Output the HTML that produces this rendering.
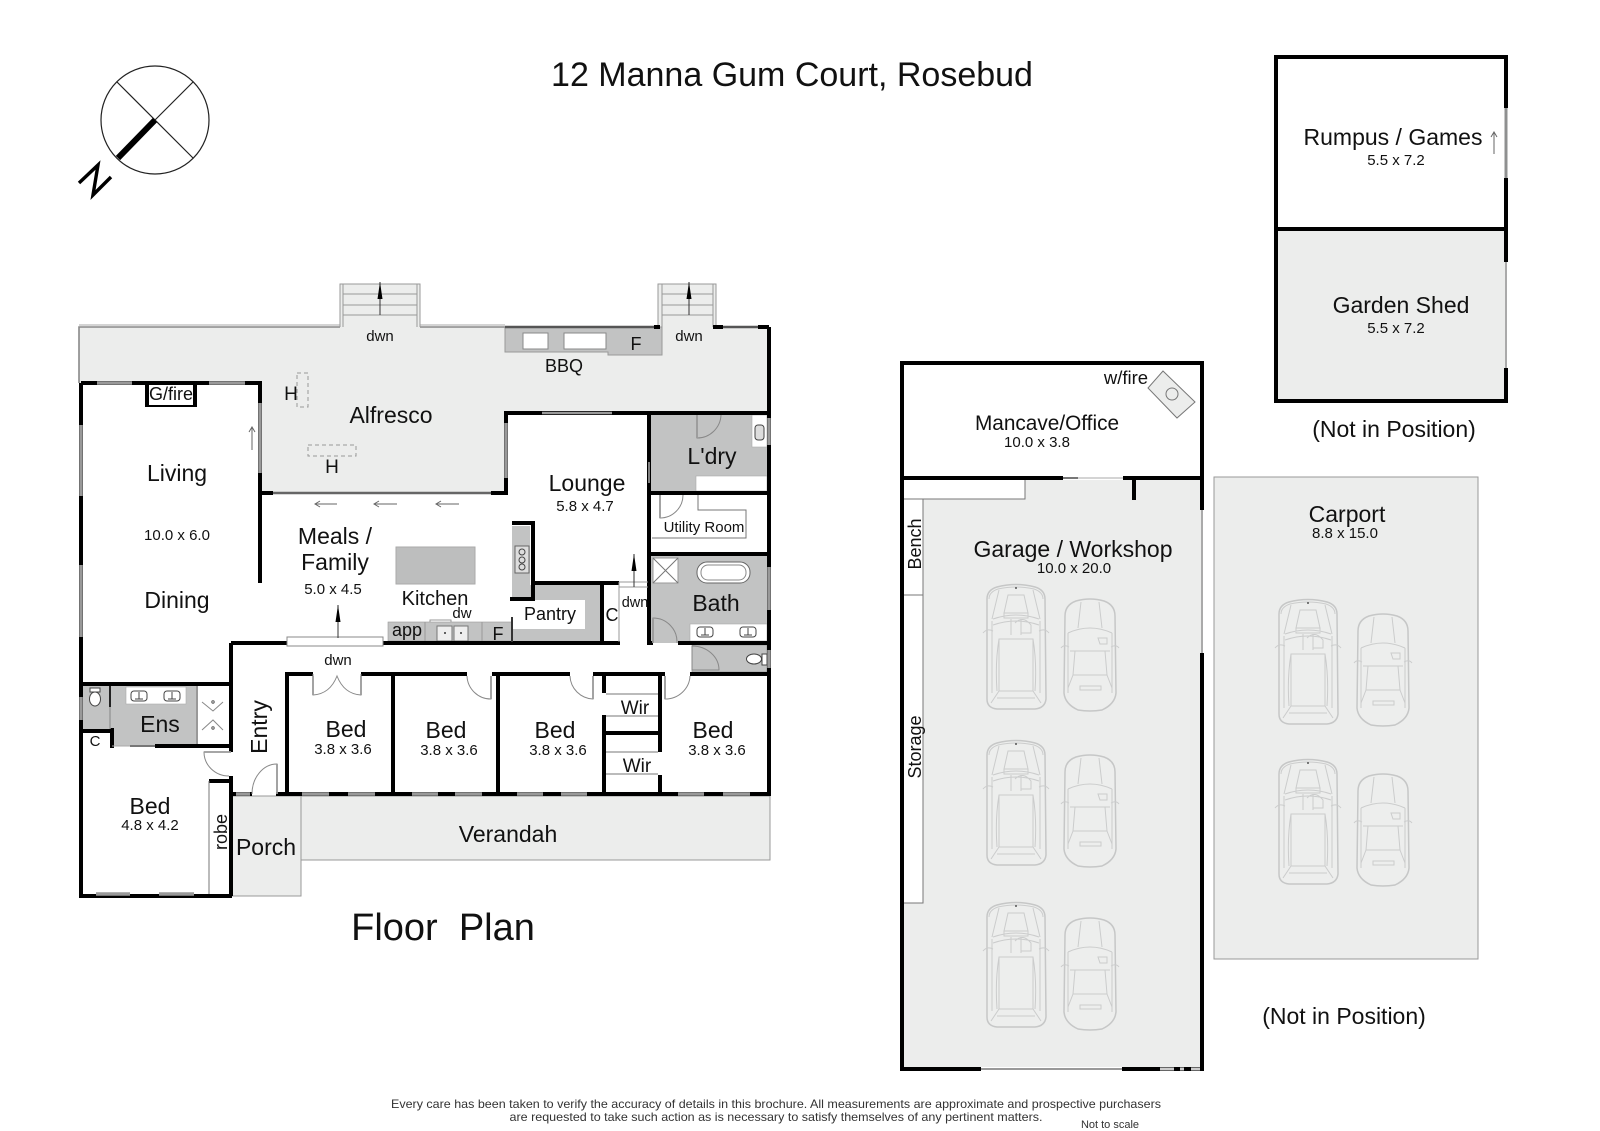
<!DOCTYPE html>
<html><head><meta charset="utf-8"><title>12 Manna Gum Court, Rosebud</title>
<style>
html,body{margin:0;padding:0;background:#fff}
svg{display:block;filter:blur(.35px)}
text{font-family:"Liberation Sans",sans-serif;fill:#111;text-anchor:middle}
.b{font-size:23px}.s{font-size:15px}.m{font-size:18px}
.w{stroke:#000;stroke-width:4;fill:none}
.g{stroke:#999;stroke-width:3.5;fill:none}
.t{stroke:#777;stroke-width:1;fill:none}
.d{stroke:#888;stroke-width:1;fill:none}
.c{stroke:#cbcccc;stroke-width:1;fill:none}
</style></head><body>
<svg width="1600" height="1131" viewBox="0 0 1600 1131" xmlns="http://www.w3.org/2000/svg">
<defs>
<g id="carA">
<path d="M2,16Q2,7 12,4Q31,-1 50,4Q60,7 60,16L61,116Q60,125 50,126L12,126Q2,125 2,116Z" fill="#edeeed" stroke="#c6c7c7" stroke-width="1.5"/>
<path class="c" d="M4,16Q4,9 13,6Q31,2 49,6Q58,9 58,16M7,38V110M55,38V110M-2,50Q2,45 8,48M64,50Q60,45 54,48M14,7L7,36M48,7L55,36M8,36Q31,28 54,36M8,42Q31,34 54,42M23,12H39L43,30H19ZM19,30H43V35H19ZM14,56H48V108H14ZM14,56Q10,80 12,108M48,56Q52,80 50,108M14,108L6,120M48,108L56,120M12,115H50M26,36V52M36,36V52M30,40Q38,32 46,42V50H36"/>
<circle cx="31" cy="5" r="1" fill="#555"/>
</g>
<g id="carB">
<path d="M5,18Q5,7 16,3Q30,-1 44,3Q55,7 55,18L56,95Q55,106 42,112Q30,114 18,112Q5,106 4,95Z" fill="#edeeed" stroke="#c6c7c7" stroke-width="1.5"/>
<path class="c" d="M1,50Q4,46 9,49M59,50Q56,46 51,49M21,4L18,30M39,4L42,30M8,35Q30,25 52,35M8,35V95M52,35V95M10,53H50M15,53L13,77H47L45,53M13,77L8,90M47,77L52,90M20,88H41V92H20ZM38,40H47V46H40Z"/>
</g>
<g id="arr"><path d="M0,0V-33" stroke="#333" stroke-width="1"/><path d="M0,-33L-2.5,-16H2.5Z" fill="#000"/></g>
<g id="sink"><rect x="-8" y="-5" width="16" height="10" rx="3" fill="#fff" stroke="#444" stroke-width="1"/><path d="M0,-4V3M-4,3H4" stroke="#444" stroke-width="1"/></g>
</defs>

<!-- title -->
<text x="792" y="86" style="font-size:34px">12 Manna Gum Court, Rosebud</text>

<!-- compass -->
<circle cx="155" cy="120" r="54" fill="none" stroke="#222" stroke-width="1.2"/>
<path d="M117,82L193,158M193,82L155,120" stroke="#222" stroke-width="1.2"/>
<path d="M155,120L118,158" stroke="#000" stroke-width="6"/>
<path d="M79,183L98,165L93,195L111,177" fill="none" stroke="#000" stroke-width="3.4"/>

<!-- fills -->
<path d="M79,327H767V411H506V493H260V383H79Z" fill="#ecedec"/>
<path d="M79,383V327H340M420,327H505" stroke="#888" stroke-width="1.6" fill="none"/>
<path d="M79,325H340M420,325H505" stroke="#aaa" stroke-width="1" fill="none"/>
<rect x="301" y="796" width="469" height="64" fill="#ecedec" stroke="#999"/>
<rect x="232" y="796" width="69" height="100" fill="#ecedec" stroke="#999"/>

<!-- stairs -->
<g fill="#ecedec" stroke="#999" stroke-width="1">
<path d="M340,327V284H420V327" fill="#ecedec"/>
<path d="M343,327V284M417,327V284M343,294H417M343,305H417M343,315H417" fill="none"/>
<path d="M658,327V284H716V327" fill="#ecedec"/>
<path d="M662,327V284M713,327V284M662,294H713M662,305H713M662,315H713" fill="none"/>
</g>
<use href="#arr" x="380" y="315"/><use href="#arr" x="689" y="315"/>

<!-- BBQ -->
<path d="M505,327H662V355H608V352H505Z" fill="#c2c3c3" stroke="#999" stroke-width="1"/>
<rect x="523" y="333" width="25" height="16" fill="#fff" stroke="#888"/>
<rect x="564" y="333" width="42" height="16" fill="#fff" stroke="#888"/>
<path d="M505,327H654" stroke="#555" stroke-width="2.5"/>
<path d="M654,327H660M713,327H723M758,327H769" class="w"/>
<path d="M723,327H758" stroke="#555" stroke-width="2.5"/>

<!-- room fills -->
<rect x="651" y="415" width="116" height="76" fill="#c2c3c3"/>
<rect x="752" y="415" width="15" height="32" fill="#fff" stroke="#aaa" stroke-width=".6"/>
<rect x="696" y="476" width="71" height="15" fill="#fff" stroke="#aaa" stroke-width=".6"/>
<rect x="755" y="425" width="9" height="15" rx="3" fill="#ddd" stroke="#444"/>
<rect x="651" y="556" width="116" height="87" fill="#c2c3c3"/>
<rect x="653" y="558" width="25" height="25" fill="#fff" stroke="#999"/>
<path d="M653,558L678,583M678,558L653,583" stroke="#777"/>
<rect x="697" y="562" width="53" height="21" rx="10" fill="#fff" stroke="#666"/>
<rect x="701" y="565" width="45" height="15" rx="7" fill="#fff" stroke="#888"/>
<rect x="690" y="624" width="77" height="17" fill="#fff" stroke="#aaa" stroke-width=".6"/>
<use href="#sink" x="705" y="632"/><use href="#sink" x="748" y="632"/>
<rect x="692" y="645" width="75" height="27" fill="#c2c3c3" stroke="#888" stroke-width=".6"/>
<ellipse cx="754" cy="659" rx="7.5" ry="5" fill="#fff" stroke="#444"/><rect x="762" y="654" width="5" height="11" fill="#fff" stroke="#444"/>
<!-- kitchen -->
<rect x="396" y="547" width="79" height="37" fill="#bdbebe" stroke="#aaa"/>
<rect x="512" y="526" width="18" height="72" fill="#c2c3c3"/>
<rect x="515" y="546" width="14" height="27" fill="#ddd" stroke="#666"/>
<circle cx="522" cy="552" r="3" fill="none" stroke="#444"/><circle cx="522" cy="560" r="3" fill="none" stroke="#444"/><circle cx="522" cy="567" r="3" fill="none" stroke="#444"/>
<rect x="513" y="585" width="87" height="56" fill="#c2c3c3"/>
<rect x="513" y="600" width="72" height="29" fill="#fff"/>
<rect x="388" y="622" width="124" height="19" fill="#c2c3c3" stroke="#999" stroke-width=".6"/>
<rect x="437" y="626" width="15" height="15" fill="#eee" stroke="#777"/><rect x="454" y="626" width="14" height="15" fill="#eee" stroke="#777"/>
<circle cx="445" cy="633" r="1" fill="#333"/><circle cx="461" cy="633" r="1" fill="#333"/>
<path d="M430,622V620H451V622M482,622V641M425,622V641" stroke="#999" fill="none"/>
<!-- ensuite -->
<rect x="83" y="686" width="29" height="43" fill="#c2c3c3"/>
<rect x="112" y="686" width="85" height="60" fill="#c2c3c3"/>
<rect x="126" y="687" width="60" height="17" fill="#fff" stroke="#aaa" stroke-width=".6"/>
<use href="#sink" x="139" y="696"/><use href="#sink" x="172" y="696"/>
<ellipse cx="95" cy="699" rx="5.5" ry="7" fill="#fff" stroke="#444"/><rect x="90" y="688" width="10" height="4" fill="#fff" stroke="#444"/>
<path d="M197,686V746" stroke="#999" stroke-width="2"/>
<path d="M202,702L213,711L223,702M202,730L213,720L223,730" stroke="#888" fill="none"/>
<circle cx="213" cy="702" r="1.2" fill="none" stroke="#555"/><circle cx="213" cy="728" r="1.2" fill="none" stroke="#555"/>

<!-- walls -->
<path class="w" d="M81,383H260V583M81,383V896H232M147,383V406M195,383V406M506,413V493M504,413H651M649,413V645M649,413H769M769,327V796M649,493H769M649,554H769"/>
<path d="M145,406H197" stroke="#000" stroke-width="2"/>
<path class="w" d="M258,493H273M491,493H508M510,599H535M533,523V601M512,523H535M531,583H619M602,583V643M231,643H287M383,643H620M649,643H653M678,643H769"/>
<path class="w" d="M287,674H313M361,674H467M492,674H570M593,674H665M690,674H769M287,672V796M393,674V796M498,674V796M604,674V693M604,715V796M660,674V752M660,775V796M604,733H660"/>
<path class="w" d="M232,794H252M276,794H769M81,684H233M231,643V752M231,776V896M83,731H114M112,728V748M155,746H233M209,781H233"/>
<path d="M110,686V707" stroke="#222" stroke-width="2"/><path d="M110,707V729" stroke="#999" stroke-width="1.5"/>
<path d="M512,617V642" stroke="#333" stroke-width="2"/>

<!-- windows -->
<path class="g" d="M97,383H132M209,383H245M81,425V496M81,565V637M81,697V720M260,403V473M506,423V478M96,894H130M159,894H194M769,418V445M769,567V610M769,650V668M236,794H250M302,794H329M348,794H375M412,794H438M455,794H482M517,794H543M561,794H587M678,794H704M723,794H750"/>
<path d="M542,413H612" stroke="#999" stroke-width="2.5"/>
<path d="M273,493H491" stroke="#666" stroke-width="2.5"/>
<path d="M649,462V483" stroke="#aaa" stroke-width="1.5"/>
<path d="M130,746H155" stroke="#777" stroke-width="2"/><path d="M112,746H130" stroke="#aaa" stroke-width="1"/>

<!-- sliding window at meals -->
<rect x="287" y="637" width="96" height="9" fill="#fff" stroke="#888"/>
<use href="#arr" x="338" y="638"/>

<!-- small dwn stair -->
<path d="M619,582H648M619,587H648M619,582V642" stroke="#999" fill="none"/>
<use href="#arr" x="634" y="587"/>

<!-- doors -->
<g class="d">
<path d="M697,415V438A24,24 0 0 0 721,415"/>
<path d="M660,495V518A23,23 0 0 0 683,495"/>
<path d="M653,643V618A24,24 0 0 1 677,643"/>
<path d="M692,646V670H719A27,24 0 0 0 692,646"/>
<path d="M313,674V695Q330,694 337,676Q344,694 361,695V674"/>
<path d="M491,676V699A24,24 0 0 1 467,676"/>
<path d="M593,676V699A24,24 0 0 1 570,676"/>
<path d="M665,676V699A25,24 0 0 0 690,676"/>
<path d="M231,752H204A25,24 0 0 0 229,776"/>
<path d="M277,794V764A25,30 0 0 0 252,794"/>
</g>
<path d="M313,676V695M361,676V695M491,676V699M593,676V699M665,676V699M277,794V764M204,752H231M697,415V438M660,495V518M653,643V618" stroke="#999" stroke-width="1.8"/>

<!-- thin lines -->
<path class="t" d="M698,495V510H746V538H652M209,781V894M606,694H658M606,716H658M606,752H658M606,774H658"/>

<!-- heaters and arrows -->
<g fill="none" stroke="#999" stroke-width="1" stroke-dasharray="4 3">
<rect x="297" y="373" width="11" height="34"/><rect x="308" y="445" width="48" height="11"/>
</g>
<g stroke="#666" stroke-width="1" fill="none">
<path d="M252,450V427M249,432L252,427L255,432"/>
<path d="M337,504H315M320,501L315,504L320,507M397,504H374M379,501L374,504L379,507M459,504H436M441,501L436,504L441,507"/>
<path d="M1494,154V132M1491,137L1494,132L1497,137"/>
</g>

<!-- house text -->
<text x="171" y="400" class="m">G/fire</text>
<text x="380" y="341" class="s">dwn</text>
<text x="689" y="341" class="s">dwn</text>
<text x="338" y="665" class="s">dwn</text>
<text x="635" y="607" class="s" style="font-size:14.5px">dwn</text>
<text x="291" y="400" class="m" style="font-size:19px">H</text>
<text x="332" y="473" class="m" style="font-size:19px">H</text>
<text x="391" y="423" class="b">Alfresco</text>
<text x="564" y="372" class="m">BBQ</text>
<text x="636" y="350" class="m">F</text>
<text x="177" y="481" class="b">Living</text>
<text x="177" y="540" class="s">10.0 x 6.0</text>
<text x="177" y="608" class="b">Dining</text>
<text x="335" y="544" class="b">Meals /</text>
<text x="335" y="570" class="b">Family</text>
<text x="333" y="594" class="s">5.0 x 4.5</text>
<text x="435" y="605" style="font-size:20px">Kitchen</text>
<text x="462" y="618" class="s">dw</text>
<text x="407" y="636" class="m">app</text>
<text x="498" y="640" class="m">F</text>
<text x="550" y="620" class="m">Pantry</text>
<text x="612" y="621" class="m">C</text>
<text x="587" y="491" class="b">Lounge</text>
<text x="585" y="511" class="s">5.8 x 4.7</text>
<text x="712" y="464" class="b">L'dry</text>
<text x="704" y="532" class="s">Utility Room</text>
<text x="716" y="611" class="b">Bath</text>
<text x="160" y="732" class="b">Ens</text>
<text x="95" y="746" class="s">C</text>
<text x="346" y="737" class="b">Bed</text><text x="343" y="754" class="s">3.8 x 3.6</text>
<text x="446" y="738" class="b">Bed</text><text x="449" y="755" class="s">3.8 x 3.6</text>
<text x="555" y="738" class="b">Bed</text><text x="558" y="755" class="s">3.8 x 3.6</text>
<text x="713" y="738" class="b">Bed</text><text x="717" y="755" class="s">3.8 x 3.6</text>
<text x="635" y="714" style="font-size:19px">Wir</text>
<text x="637" y="772" style="font-size:19px">Wir</text>
<text x="150" y="814" class="b">Bed</text><text x="150" y="830" class="s">4.8 x 4.2</text>
<text transform="translate(267,727) rotate(-90)" class="b">Entry</text>
<text transform="translate(227,832) rotate(-90)" class="m">robe</text>
<text x="266" y="855" class="b">Porch</text>
<text x="508" y="842" class="b">Verandah</text>
<text x="443" y="940" style="font-size:38px" xml:space="preserve">Floor  Plan</text>

<!-- garage -->
<path d="M904,480H1025V499H904Z" fill="#fff"/>
<path d="M1025,480H1202V1067H904V903H923V499H1025Z" fill="#ecedec"/>
<path d="M904,499H1025V480M923,499V903H904M904,595H923" stroke="#777" fill="none"/>
<path class="w" d="M902,361V1071M900,363H1204M1202,361V510M1202,653V1071M900,1069H981M1122,1069H1204M902,478H1063M1123,478H1204M1134,478V500"/>
<path d="M1202,510V653" stroke="#aaa" stroke-width="2"/>
<path d="M981,1069H1122" stroke="#999" stroke-width="2"/>
<path d="M1160,1069H1174M1180,1069H1184M1191,1069H1200" stroke="#ccc" stroke-width="3"/>
<path d="M1063,478H1078" stroke="#777" stroke-width="2"/><path d="M1078,478H1123" stroke="#aaa" stroke-width="1"/>
<path d="M1163,371L1195,402L1177,418L1148,388Z" fill="#ecedec" stroke="#777"/>
<circle cx="1172" cy="394" r="6" fill="none" stroke="#777"/>
<text x="1126" y="384" style="font-size:18.5px">w/fire</text>
<text x="1047" y="430" style="font-size:20.8px">Mancave/Office</text>
<text x="1037" y="447" class="s">10.0 x 3.8</text>
<text x="1073" y="557" class="b">Garage / Workshop</text>
<text x="1074" y="573" class="s">10.0 x 20.0</text>
<text transform="translate(921,544) rotate(-90)" class="m">Bench</text>
<text transform="translate(921,747) rotate(-90)" class="m">Storage</text>
<use href="#carA" x="985" y="583"/><use href="#carB" x="1060" y="598"/>
<use href="#carA" x="985" y="739"/><use href="#carB" x="1060" y="754"/>
<use href="#carA" x="985" y="901"/><use href="#carB" x="1060" y="917"/>

<!-- carport -->
<rect x="1214" y="477" width="264" height="482" fill="#ecedec" stroke="#999"/>
<text x="1347" y="522" class="b">Carport</text>
<text x="1345" y="538" class="s">8.8 x 15.0</text>
<use href="#carA" x="1277" y="598"/><use href="#carB" x="1353" y="613"/>
<use href="#carA" x="1277" y="758"/><use href="#carB" x="1353" y="773"/>
<text x="1344" y="1024" class="b">(Not in Position)</text>

<!-- rumpus and shed -->
<rect x="1276" y="229" width="230" height="172" fill="#ecedec"/>
<path class="w" d="M1276,55V403M1274,57H1508M1274,229H1508M1274,401H1508M1506,55V108M1506,178V262M1506,368V403"/>
<path d="M1506,108V178" stroke="#8f9090" stroke-width="3"/>
<path d="M1506,262V368" stroke="#aaa" stroke-width="2"/>
<text x="1393" y="145" class="b">Rumpus / Games</text>
<text x="1396" y="165" class="s">5.5 x 7.2</text>
<text x="1401" y="313" class="b">Garden Shed</text>
<text x="1396" y="333" class="s">5.5 x 7.2</text>
<text x="1394" y="437" class="b">(Not in Position)</text>

<!-- footer -->
<text x="776" y="1108" style="font-size:12px;fill:#333" textLength="770" lengthAdjust="spacingAndGlyphs">Every care has been taken to verify the accuracy of details in this brochure. All measurements are approximate and prospective purchasers</text>
<text x="776" y="1121" style="font-size:12px;fill:#333" textLength="533" lengthAdjust="spacingAndGlyphs">are requested to take such action as is necessary to satisfy themselves of any pertinent matters.</text>
<text x="1110" y="1128" style="font-size:11px;fill:#333">Not to scale</text>
</svg>
</body></html>
